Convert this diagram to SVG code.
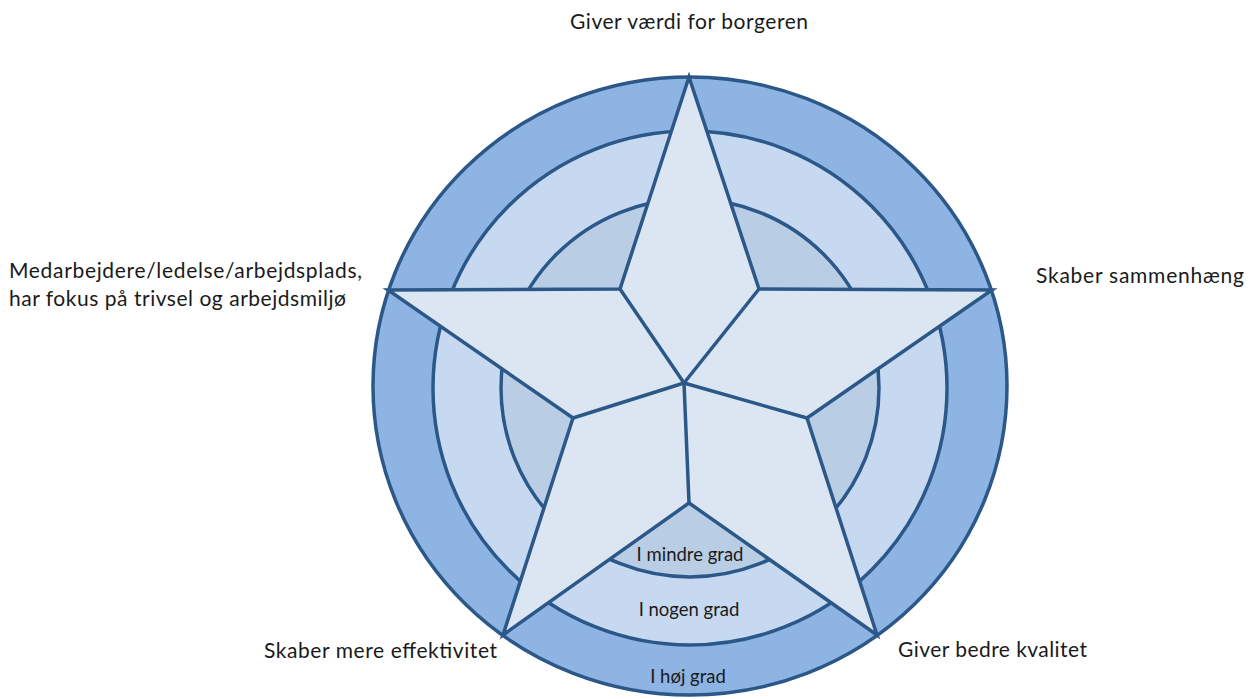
<svg xmlns="http://www.w3.org/2000/svg" width="1256" height="699" viewBox="0 0 1256 699">
<style>
.ring{stroke:#2C5889;stroke-width:3.5}
.lbl{font-family:Lato,"Open Sans","DejaVu Sans",sans-serif;font-size:21px;fill:#1a1a1a}
.lvl{font-family:Lato,"Open Sans","DejaVu Sans",sans-serif;font-size:18.5px;fill:#1a1a1a;text-anchor:middle}
</style>
<rect width="1256" height="699" fill="#ffffff"/>
<g id="rings">
<ellipse id="ring-outer" class="ring" cx="690" cy="386" rx="317" ry="309" fill="#8EB4E3"/>
<circle id="ring-middle" class="ring" cx="690" cy="388" r="257" fill="#C6D9F1"/>
<circle id="ring-inner" class="ring" cx="690" cy="388" r="189" fill="#B9CDE5"/>
</g>
<g id="star">
<polygon class="ring" fill="#DCE6F2" stroke-linejoin="miter" points="689,77 759,289 992,290 807,418 877,635 689,503 503,635 573,418 388,290 620,289"/>
</g>
<g id="connectors" stroke="#2C5889" stroke-width="3.5" fill="none">
<line x1="684" y1="383" x2="620" y2="289"/>
<line x1="684" y1="383" x2="759" y2="289"/>
<line x1="684" y1="383" x2="807" y2="418"/>
<line x1="684" y1="383" x2="689" y2="503"/>
<line x1="684" y1="383" x2="573" y2="418"/>
</g>
<g id="labels">
<text class="lbl" x="570" y="29" textLength="238">Giver værdi for borgeren</text>
<text class="lbl" x="1036" y="283" textLength="208">Skaber sammenhæng</text>
<text class="lbl" x="9" y="278" textLength="353">Medarbejdere/ledelse/arbejdsplads,</text>
<text class="lbl" x="9" y="306" textLength="337">har fokus på trivsel og arbejdsmiljø</text>
<text class="lbl" x="264" y="658" textLength="233">Skaber mere effektivitet</text>
<text class="lbl" x="898" y="657" textLength="189">Giver bedre kvalitet</text>
<text class="lvl" x="690" y="561">I mindre grad</text>
<text class="lvl" x="689" y="616">I nogen grad</text>
<text class="lvl" x="688" y="683">I høj grad</text>
</g>
</svg>
